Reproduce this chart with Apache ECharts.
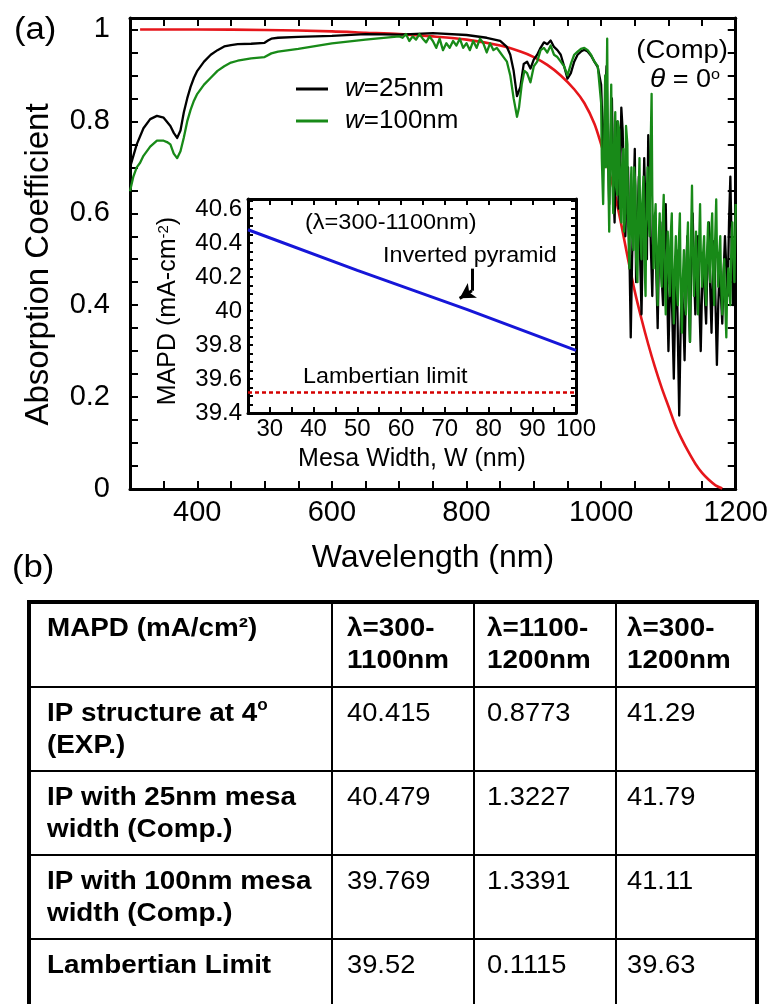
<!DOCTYPE html>
<html><head><meta charset="utf-8">
<script src="https://cdn.jsdelivr.net/npm/echarts@6/dist/echarts.min.js"></script>
<style>html,body{margin:0;padding:0;background:#fff}#c{width:771px;height:1004px}</style>
</head><body><div id="c"></div>
<script>
// ---------- DATA ----------
// Lambertian limit absorption (red)
const absLambert = [[315,1.0],[400,1.0],[500,0.999],[600,0.996],[650,0.993],[700,0.99],[750,0.985],[800,0.978],[850,0.965],[880,0.952],[900,0.94],[920,0.923],[940,0.9],[960,0.87],[975,0.84],[990,0.795],[1000,0.75],[1010,0.7],[1020,0.645],[1030,0.575],[1040,0.5],[1050,0.43],[1060,0.37],[1070,0.315],[1080,0.265],[1090,0.22],[1100,0.18],[1110,0.14],[1120,0.108],[1130,0.08],[1140,0.055],[1150,0.035],[1160,0.02],[1170,0.008],[1180,0.001]];
// w = 25 nm (black)
const absW25 = [[300,0.70],[310,0.75],[320,0.785],[330,0.805],[340,0.812],[350,0.808],[360,0.79],[365,0.775],[370,0.764],[375,0.78],[380,0.82],[385,0.85],[390,0.875],[395,0.895],[400,0.91],[410,0.93],[420,0.945],[430,0.955],[440,0.963],[450,0.966],[460,0.968],[480,0.969],[500,0.971],[505,0.976],[510,0.98],[520,0.982],[550,0.984],[600,0.986],[650,0.99],[700,0.989],[750,0.992],[800,0.988],[830,0.982],[850,0.975],[860,0.962],[865,0.945],[870,0.91],[875,0.855],[880,0.875],[885,0.925],[890,0.93],[895,0.915],[900,0.935],[905,0.945],[910,0.96],[915,0.972],[920,0.968],[925,0.976],[930,0.962],[935,0.955],[940,0.945],[945,0.92],[950,0.893],[955,0.905],[960,0.93],[965,0.945],[970,0.952],[975,0.956],[980,0.952],[985,0.943],[990,0.93],[995,0.918],
[1000,0.88],[1002,0.79],[1004,0.70],[1006,0.84],[1008,0.92],[1010,0.74],[1012,0.62],[1014,0.76],[1016,0.85],[1018,0.66],[1020,0.58],[1022,0.72],[1024,0.80],[1026,0.61],[1028,0.66],[1030,0.83],[1032,0.78],[1034,0.64],[1036,0.55],[1038,0.68],[1040,0.70],[1042,0.52],[1044,0.33],[1046,0.50],[1048,0.62],[1050,0.74],[1052,0.45],[1054,0.58],[1056,0.68],[1058,0.50],[1060,0.38],[1062,0.56],[1064,0.72],[1066,0.60],[1068,0.50],[1070,0.77],[1072,0.66],[1074,0.52],[1076,0.42],[1078,0.58],[1080,0.60],[1082,0.47],[1084,0.35],[1086,0.52],[1088,0.58],[1090,0.46],[1092,0.40],[1094,0.55],[1096,0.62],[1098,0.44],[1100,0.30],[1102,0.42],[1104,0.48],[1106,0.36],[1108,0.24],[1110,0.40],[1112,0.52],[1114,0.33],[1116,0.16],[1118,0.34],[1120,0.45],[1122,0.38],[1124,0.28],[1126,0.44],[1128,0.55],[1130,0.42],[1132,0.32],[1134,0.50],[1136,0.60],[1138,0.47],[1140,0.38],[1142,0.49],[1144,0.55],[1146,0.40],[1148,0.30],[1150,0.44],[1152,0.50],[1154,0.42],[1156,0.36],[1158,0.50],[1160,0.58],[1162,0.44],[1164,0.34],[1166,0.46],[1168,0.54],[1170,0.40],[1172,0.27],[1174,0.40],[1176,0.48],[1178,0.42],[1180,0.36],[1182,0.47],[1184,0.55],[1186,0.48],[1188,0.42],[1190,0.58],[1192,0.68],[1194,0.52],[1196,0.40],[1198,0.50],[1200,0.60]];
// w = 100 nm (green)
const absW100 = [[300,0.648],[305,0.68],[310,0.70],[315,0.71],[320,0.725],[330,0.745],[340,0.758],[350,0.758],[355,0.755],[360,0.75],[365,0.73],[370,0.72],[375,0.735],[380,0.765],[385,0.8],[390,0.825],[395,0.845],[400,0.86],[410,0.88],[420,0.895],[430,0.91],[440,0.92],[450,0.928],[460,0.932],[480,0.937],[500,0.94],[510,0.948],[520,0.952],[550,0.958],[600,0.97],[650,0.978],[700,0.985],[705,0.982],[710,0.99],[715,0.975],[720,0.985],[725,0.978],[730,0.99],[735,0.98],[740,0.972],[745,0.985],[750,0.975],[755,0.96],[760,0.98],[765,0.955],[770,0.97],[775,0.96],[780,0.975],[785,0.965],[790,0.98],[795,0.96],[800,0.97],[805,0.955],[810,0.975],[815,0.96],[820,0.98],[825,0.97],[830,0.95],[835,0.97],[840,0.955],[845,0.96],[850,0.95],[855,0.94],[860,0.93],[865,0.9],[870,0.85],[875,0.81],[878,0.83],[882,0.88],[886,0.91],[890,0.905],[895,0.885],[900,0.92],[905,0.93],[910,0.955],[915,0.96],[920,0.95],[925,0.965],[930,0.945],[935,0.94],[940,0.93],[945,0.92],[950,0.9],[955,0.925],[960,0.945],[965,0.952],[970,0.958],[975,0.96],[980,0.955],[985,0.945],[990,0.93],[995,0.92],
[1000,0.84],[1001,0.72],[1003,0.62],[1005,0.80],[1006,0.90],[1007,0.70],[1009,0.98],[1010,0.75],[1012,0.56],[1013,0.70],[1015,0.88],[1016,0.72],[1018,0.60],[1019,0.74],[1021,0.82],[1022,0.66],[1024,0.64],[1025,0.80],[1027,0.78],[1028,0.62],[1030,0.58],[1031,0.70],[1033,0.74],[1034,0.56],[1036,0.60],[1037,0.79],[1039,0.75],[1040,0.58],[1042,0.48],[1043,0.62],[1045,0.70],[1046,0.55],[1048,0.52],[1049,0.70],[1051,0.66],[1052,0.50],[1054,0.45],[1055,0.60],[1057,0.72],[1058,0.56],[1060,0.50],[1061,0.62],[1063,0.68],[1064,0.52],[1066,0.42],[1067,0.58],[1069,0.70],[1070,0.60],[1072,0.55],[1073,0.70],[1075,0.86],[1076,0.64],[1078,0.48],[1079,0.56],[1081,0.62],[1082,0.50],[1084,0.40],[1085,0.52],[1087,0.60],[1088,0.50],[1090,0.44],[1091,0.56],[1093,0.64],[1094,0.50],[1096,0.38],[1097,0.48],[1099,0.56],[1100,0.48],[1102,0.42],[1103,0.54],[1105,0.60],[1106,0.47],[1108,0.36],[1109,0.46],[1111,0.55],[1112,0.45],[1114,0.40],[1115,0.52],[1117,0.60],[1118,0.46],[1120,0.34],[1121,0.44],[1123,0.52],[1124,0.44],[1126,0.38],[1127,0.50],[1129,0.58],[1130,0.44],[1132,0.32],[1133,0.50],[1135,0.66],[1136,0.54],[1138,0.42],[1139,0.50],[1141,0.56],[1142,0.46],[1144,0.38],[1145,0.50],[1147,0.62],[1148,0.52],[1150,0.44],[1151,0.50],[1153,0.55],[1154,0.46],[1156,0.40],[1157,0.50],[1159,0.58],[1160,0.50],[1162,0.45],[1163,0.54],[1165,0.60],[1166,0.50],[1168,0.40],[1169,0.52],[1171,0.63],[1172,0.52],[1174,0.44],[1175,0.50],[1177,0.55],[1178,0.46],[1180,0.38],[1181,0.45],[1183,0.50],[1184,0.42],[1186,0.33],[1187,0.42],[1189,0.48],[1190,0.44],[1192,0.40],[1193,0.50],[1195,0.58],[1196,0.52],[1198,0.45],[1200,0.62]];
// Inset: MAPD vs mesa width
const mesaWidth = [25, 50, 75, 100];
const mapdIP = [40.479, 40.24, 40.01, 39.769];
const lambertLimitX = [25, 100];
const lambertLimitY = [39.52, 39.52];
// Table (b)
const tableHeader = ['MAPD (mA/cm²)', 'λ=300-\n1100nm', 'λ=1100-\n1200nm', 'λ=300-\n1200nm'];
const rowLabels = ['IP structure at 4{s|o}\n(EXP.)', 'IP with 25nm mesa\nwidth (Comp.)', 'IP with 100nm mesa\nwidth (Comp.)', 'Lambertian Limit'];
const mapd300to1100 = ['40.415', '40.479', '39.769', '39.52'];
const mapd1100to1200 = ['0.8773', '1.3227', '1.3391', '0.1115'];
const mapd300to1200 = ['41.29', '41.79', '41.11', '39.63'];

// ---------- CHART ----------
const FONT = 'Liberation Sans, Arial, Helvetica, sans-serif';
const chart = echarts.init(document.getElementById('c'), null, {renderer: 'canvas'});

const axLine = {show: true, onZero: false, lineStyle: {color: '#000', width: 3}};
const tickIn = (len) => ({show: true, inside: true, length: len, lineStyle: {color: '#000', width: 2}});

function mainY(v) {
  const r = Math.round(v * 5);
  if (Math.abs(v * 5 - r) > 1e-6 || v > 1.001) return '';
  const val = r / 5;
  return val === 0 ? '0' : val === 1 ? '1' : val.toFixed(1);
}
function insetY(v) {
  const r = Math.round(v * 5);
  if (Math.abs(v * 5 - r) > 1e-6 || v > 40.61) return '';
  const s = (r / 5).toFixed(1);
  return s === '40.0' ? '40' : s;
}

const graphics = [];
function txt(x, y, text, size, opts) {
  opts = opts || {};
  graphics.push({
    type: 'text', x: x, y: y, silent: true, scaleX: opts.sx || 1, scaleY: 1,
    style: Object.assign({
      text: text, fill: '#000',
      font: (opts.bold ? 'bold ' : '') + size + 'px ' + FONT,
      fontSize: size, fontWeight: opts.bold ? 'bold' : 'normal', fontFamily: FONT,
      align: opts.align || 'left', textAlign: opts.align || 'left',
      verticalAlign: opts.va || 'middle', textVerticalAlign: opts.va || 'middle',
      lineHeight: opts.lh || size
    }, opts.rich ? {rich: opts.rich} : {})
  });
}
// panel labels and annotations
txt(14, 30, '(a)', 31, {sx: 1.12});
txt(12, 568, '(b)', 31, {sx: 1.12});
txt(728, 51, '(Comp)', 25, {align: 'right', sx: 1.1});
txt(720, 80, '{t|θ} = 0{s|o}', 25, {align: 'right', sx: 1.08, rich: {
  t: {fontStyle: 'italic', fontSize: 26, fontFamily: FONT},
  s: {fontSize: 15, fontFamily: FONT, verticalAlign: 'top', lineHeight: 25}}});
txt(305, 223, '(λ=300-1100nm)', 22, {sx: 1.07});
txt(383, 256, 'Inverted pyramid', 22, {sx: 1.06});
txt(303, 377, 'Lambertian limit', 22, {sx: 1.06});

// table
const colX = [47, 347, 487, 627];
const rowTop = [602, 687, 771, 855, 939];
const supRich = {s: {fontSize: 16, fontFamily: FONT, fontWeight: 'bold', verticalAlign: 'top', lineHeight: 32}};
tableHeader.forEach((h, i) => txt(colX[i], rowTop[0] + 11, h, 26, {bold: true, va: 'top', lh: 32, sx: 1.07}));
rowLabels.forEach((h, r) => txt(colX[0], rowTop[r + 1] + 11, h, 26, {bold: true, va: 'top', lh: 32, rich: supRich, sx: 1.07}));
[mapd300to1100, mapd1100to1200, mapd300to1200].forEach((col, c) => {
  col.forEach((v, r) => txt(colX[c + 1], rowTop[r + 1] + 11, v, 26, {va: 'top', lh: 32, sx: 1.05}));
});
graphics.push({type: 'rect', silent: true, shape: {x: 29, y: 602, width: 728, height: 420}, style: {fill: 'none', stroke: '#000', lineWidth: 4}});
[332, 474, 616].forEach(x => graphics.push({type: 'line', silent: true, shape: {x1: x, y1: 602, x2: x, y2: 1010}, style: {stroke: '#000', lineWidth: 2}}));
[687, 771, 855, 939].forEach(y => graphics.push({type: 'line', silent: true, shape: {x1: 29, y1: y, x2: 757, y2: y}, style: {stroke: '#000', lineWidth: 2}}));

const option = {
  animation: false,
  backgroundColor: '#fff',
  textStyle: {fontFamily: FONT, color: '#000'},
  grid: [
    {left: 130, right: 32, top: 18, bottom: 515},
    {left: 248, right: 195, top: 199, bottom: 591, show: true, backgroundColor: '#fff', borderWidth: 0}
  ],
  legend: {
    data: ['w=25nm', 'w=100nm'], orient: 'vertical', left: 291, top: 71,
    itemWidth: 32, itemHeight: 3, itemGap: 6, icon: 'rect',
    formatter: n => '{i|w}' + n.slice(1),
    textStyle: {fontSize: 26, color: '#000', fontFamily: FONT, padding: [0, 0, 0, 12],
      rich: {i: {fontStyle: 'italic', fontSize: 26, fontFamily: FONT}}}
  },
  xAxis: [
    {gridIndex: 0, type: 'value', min: 300, max: 1200, interval: 50, position: 'bottom',
     axisLine: axLine, axisTick: tickIn(8), splitLine: {show: false},
     axisLabel: {fontSize: 29, color: '#000', margin: 9, formatter: v => (v % 200 === 0 && v >= 400) ? String(v) : ''},
     name: 'Wavelength (nm)', nameLocation: 'middle', nameGap: 53, nameTextStyle: {fontSize: 32, color: '#000'}},
    {gridIndex: 0, type: 'value', min: 300, max: 1200, interval: 50, position: 'top',
     axisLine: axLine, axisTick: tickIn(8), splitLine: {show: false}, axisLabel: {show: false}},
    {gridIndex: 1, type: 'value', min: 25, max: 100, interval: 5, position: 'bottom',
     axisLine: axLine, axisTick: tickIn(6), splitLine: {show: false},
     axisLabel: {fontSize: 24, color: '#000', margin: 4, formatter: v => (v % 10 === 0 && v >= 30) ? String(v) : ''},
     name: 'Mesa Width, W (nm)', nameLocation: 'middle', nameGap: 34, nameTextStyle: {fontSize: 25, color: '#000'}},
    {gridIndex: 1, type: 'value', min: 25, max: 100, interval: 5, position: 'top',
     axisLine: axLine, axisTick: tickIn(6), splitLine: {show: false}, axisLabel: {show: false}}
  ],
  yAxis: [
    {gridIndex: 0, type: 'value', min: 0, max: 1.025, interval: 0.05, position: 'left',
     axisLine: axLine, axisTick: tickIn(8), splitLine: {show: false},
     axisLabel: {fontSize: 29, color: '#000', margin: 20, formatter: mainY},
     name: 'Absorption Coefficient', nameLocation: 'middle', nameGap: 75,
     nameTextStyle: {fontSize: 33, color: '#000', padding: [0, 22, 0, 0]}},
    {gridIndex: 0, type: 'value', min: 0, max: 1.025, interval: 0.05, position: 'right',
     axisLine: axLine, axisTick: tickIn(8), splitLine: {show: false}, axisLabel: {show: false}},
    {gridIndex: 1, type: 'value', min: 39.4, max: 40.66, interval: 0.05, position: 'left',
     axisLine: axLine, axisTick: tickIn(5), splitLine: {show: false},
     axisLabel: {fontSize: 24, color: '#000', margin: 6, formatter: insetY},
     name: 'MAPD (mA-cm{s|-2})', nameLocation: 'middle', nameGap: 67,
     nameTextStyle: {fontSize: 25, color: '#000', padding: [0, 10, 0, 0], rich: {s: {fontSize: 15, fontFamily: FONT, verticalAlign: 'top', lineHeight: 25}}}},
    {gridIndex: 1, type: 'value', min: 39.4, max: 40.66, interval: 0.05, position: 'right',
     axisLine: axLine, axisTick: tickIn(5), splitLine: {show: false}, axisLabel: {show: false}}
  ],
  series: [
    {type: 'line', name: 'Lambertian', xAxisIndex: 0, yAxisIndex: 0, data: absLambert,
     symbol: 'none', smooth: 0.3, color: '#e6161b', lineStyle: {color: '#e6161b', width: 2.6}, z: 2},
    {type: 'line', name: 'w=25nm', xAxisIndex: 0, yAxisIndex: 0, data: absW25,
     symbol: 'none', color: '#000', lineStyle: {color: '#000', width: 2.3, join: 'round'}, z: 3},
    {type: 'line', name: 'w=100nm', xAxisIndex: 0, yAxisIndex: 0, data: absW100,
     symbol: 'none', color: '#188a18', lineStyle: {color: '#188a18', width: 2.3, join: 'round'}, z: 4},
    {type: 'line', name: 'Inverted pyramid', xAxisIndex: 2, yAxisIndex: 2,
     data: mesaWidth.map((w, i) => [w, mapdIP[i]]),
     symbol: 'none', color: '#1616d8', lineStyle: {color: '#1616d8', width: 3}, z: 5,
     markLine: {silent: true, symbol: 'none', label: {show: false},
       lineStyle: {color: '#000', width: 3, type: 'solid'},
       data: [
         [{coord: [76.2, 40.25], symbol: 'none'}, {coord: [76.2, 40.12], symbol: 'none'}],
         [{coord: [76.2, 40.12], symbol: 'none'}, {coord: [73.4, 40.075], symbol: 'arrow', symbolSize: [13, 15]}]
       ]}},
    {type: 'line', name: 'Lambertian limit', xAxisIndex: 2, yAxisIndex: 2,
     data: lambertLimitX.map((w, i) => [w, lambertLimitY[i]]),
     symbol: 'none', color: '#d40000', lineStyle: {color: '#d40000', width: 2.5, type: [4, 3]}, z: 5}
  ],
  graphic: graphics
};
chart.setOption(option);
</script>
</body></html>
